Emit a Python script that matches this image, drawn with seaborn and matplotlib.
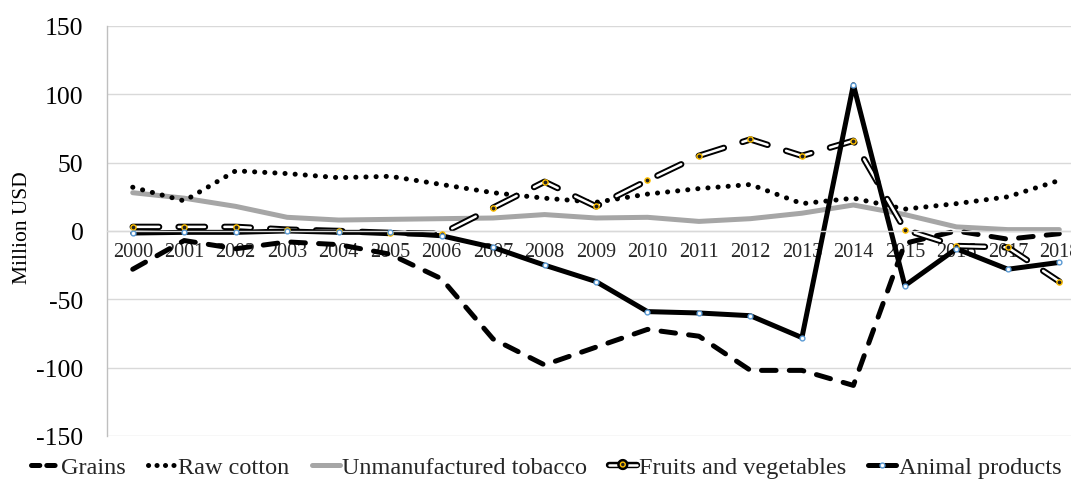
import matplotlib as mpl
mpl.use("Agg")
import matplotlib.pyplot as plt
import matplotlib.patheffects as pe
from matplotlib.lines import Line2D
import seaborn as sns

years = list(range(2000, 2019))
grains = [-28, -7, -13, -8, -10, -17, -35, -79, -98, -85, -72, -77, -102, -102, -113, -9, 0, -6, -2]
cotton = [32, 22, 44, 42, 39, 40, 34, 28, 24, 21, 27, 31, 34, 20, 24, 16, 20, 25, 37]
tobacco = [28, 24, 18, 10, 8, 8.5, 9, 9.5, 12, 9.5, 10, 7, 9, 13, 19, 12, 3, 1, 1]
fruits = [3, 3, 3, 1, 0, -1.5, -2, 17, 36, 18, 37, 55, 67, 55, 66, 1, -11, -12, -37]
animal = [-1.5, -1, -1, 0, -1, -1, -3.5, -12, -25, -37, -59, -60, -62, -78, 107, -40, -13, -28, -23]
yticks = [-150, -100, -50, 0, 50, 100, 150]

sns.set_theme(style="white")
plt.rcParams["font.family"] = ["Liberation Serif", "DejaVu Serif"]
plt.rcParams["lines.scale_dashes"] = False
plt.rcParams["axes.unicode_minus"] = False

fig = plt.figure(figsize=(10.71, 4.85), dpi=100)
ax = fig.add_axes([0.0999, 0.099, 0.9132, 0.8454])

grid_c = "#D9D9D9"
for v in yticks:
    ax.axhline(v, color=grid_c, lw=1, zorder=0.5)

lw = 3.6
grains_ls = (0, (10.5, 9.5))
cotton_ls = (0, (0.1, 7.2))
fruit_ls = (0, (19, 14))
fruit_fx = [pe.Stroke(linewidth=4.6, foreground="black"), pe.Normal()]

sns.lineplot(x=years, y=tobacco, color="#A6A6A6", lw=lw, ax=ax, solid_capstyle="round")
sns.lineplot(x=years, y=cotton, color="black", lw=lw, ax=ax,
             linestyle=cotton_ls, dash_capstyle="round")
sns.lineplot(x=years, y=grains, color="black", lw=lw, ax=ax,
             linestyle=grains_ls, dash_capstyle="round")
sns.lineplot(x=years, y=fruits, color="white", lw=1.8, ax=ax,
             linestyle=fruit_ls, dash_capstyle="round", path_effects=fruit_fx)
sns.scatterplot(x=years, y=fruits, s=14, color="#222222", edgecolor="#FFC000",
                linewidth=1.0, ax=ax, zorder=4)
sns.lineplot(x=years, y=animal, color="black", lw=lw, ax=ax, solid_joinstyle="round")
sns.scatterplot(x=years, y=animal, s=12, color="white", edgecolor="#5B9BD5",
                linewidth=1.0, ax=ax, zorder=4)

ax.set_xlim(1999.5, 2018.5)
ax.set_ylim(-150, 150)
ax.set_yticks(yticks)
ax.set_xticks(years)
ax.set_xticklabels([str(y) for y in years])
ax.tick_params(axis="y", length=0, pad=17, labelsize=18.5)
ax.tick_params(axis="x", length=0, pad=8, labelsize=14.5)
for lab in ax.get_yticklabels() + ax.get_xticklabels():
    lab.set_color("black")

for s in ["top", "right"]:
    ax.spines[s].set_visible(False)
ax.spines["left"].set_color("#BFBFBF")
ax.spines["left"].set_linewidth(1)
ax.spines["bottom"].set_position(("data", 0))
ax.spines["bottom"].set_color(grid_c)
ax.spines["bottom"].set_linewidth(1)
ax.set_ylabel("Million USD", fontsize=15.5, color="black")
# label anchor is its right edge once rotated
ax.yaxis.set_label_coords(-0.077, 0.51)
ax.set_xlabel("")

handles = [
    Line2D([], [], color="black", lw=lw, linestyle=(0, (6, 5)), dash_capstyle="round"),
    Line2D([], [], color="black", lw=lw, linestyle=(0, (0.1, 6)), dash_capstyle="round"),
    Line2D([], [], color="#A6A6A6", lw=lw, solid_capstyle="round"),
    Line2D([], [], color="white", lw=1.8, solid_capstyle="round", path_effects=fruit_fx,
           marker="o", markersize=3.5, markerfacecolor="#222222", markeredgecolor="#FFC000"),
    Line2D([], [], color="black", lw=lw, marker="o", markersize=3.5,
           markerfacecolor="white", markeredgecolor="#5B9BD5"),
]
labels = ["Grains", "Raw cotton", "Unmanufactured tobacco", "Fruits and vegetables", "Animal products"]
fig.legend(handles, labels, loc="center", bbox_to_anchor=(0.51, 0.035), ncol=5,
           frameon=False, fontsize=17.5, handlelength=1.15, handletextpad=0.1,
           columnspacing=0.9, borderaxespad=0)

plt.savefig("out.png", dpi=100)
